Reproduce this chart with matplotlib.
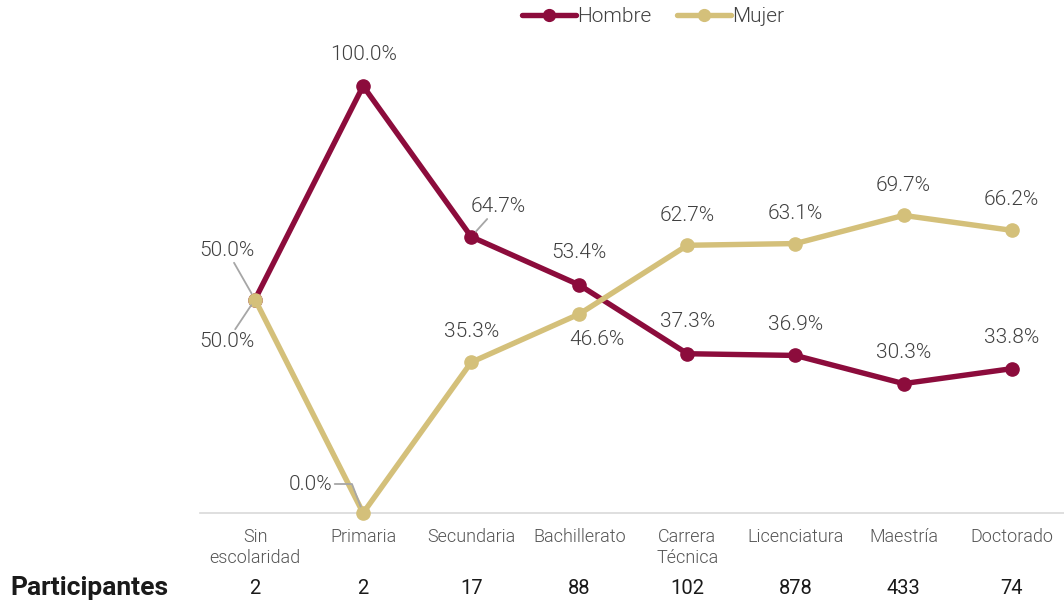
import matplotlib

matplotlib.use("Agg")
import matplotlib.pyplot as plt
from matplotlib.lines import Line2D

plt.rcParams["font.family"] = ["Roboto", "DejaVu Sans"]

# Nivel de estudios vs. porcentaje por sexo
categories = ["Sin\nescolaridad", "Primaria", "Secundaria", "Bachillerato",
              "Carrera\nTécnica", "Licenciatura", "Maestría", "Doctorado"]
hombre = [50.0, 100.0, 64.7, 53.4, 37.3, 36.9, 30.3, 33.8]
mujer = [50.0, 0.0, 35.3, 46.6, 62.7, 63.1, 69.7, 66.2]
participantes = [2, 2, 17, 88, 102, 878, 433, 74]

C_HOMBRE = "#8C0C3C"
C_MUJER = "#D4C07A"
C_TEXT = "#404040"
C_LEADER = "#A6A6A6"
LIGHT = 300

# label offsets in pixels (dx, dy) and whether a leader line is drawn
off_h = [(-28, 49), (0, 31), (27, 30), (0, 32), (0, 32), (0, 31), (0, 31), (0, 31)]
off_m = [(-28, -42), (-53, 29), (0, 31), (18, -25), (0, 30), (0, 30), (0, 30), (0, 31)]
lead_h = {0, 2}
lead_m = {0, 1}

W, H = 1064, 604
fig = plt.figure(figsize=(W / 100, H / 100), dpi=100)
ax = fig.add_axes([200 / W, (H - 513) / H, 864 / W, 427 / H])

x = list(range(len(categories)))
ax.plot(x, hombre, color=C_HOMBRE, lw=3.9, marker="o", ms=9.5,
        solid_capstyle="round", clip_on=False, zorder=3)
ax.plot(x, mujer, color=C_MUJER, lw=3.9, marker="o", ms=9.5,
        solid_capstyle="round", clip_on=False, zorder=4)

ax.set_xlim(-0.509, 7.484)
ax.set_ylim(0, 100)


def label(i, v, off, leader, bent=False):
    kw = dict(textcoords="offset pixels", ha="center", va="center",
              fontsize=15, fontweight=LIGHT, color=C_TEXT,
              annotation_clip=False, zorder=5)
    if leader:
        cs = "angle,angleA=0,angleB=111,rad=0" if bent else "arc3"
        kw["arrowprops"] = dict(arrowstyle="-", color=C_LEADER, lw=1.3,
                                shrinkA=0, shrinkB=5, connectionstyle=cs)
    ax.annotate(f"{v:.1f}%", xy=(i, v), xytext=off, **kw)


for i in x:
    label(i, hombre[i], off_h[i], i in lead_h)
    label(i, mujer[i], off_m[i], i in lead_m, bent=(i == 1))

# axes styling
for s in ["top", "right", "left"]:
    ax.spines[s].set_visible(False)
ax.spines["bottom"].set_color("#D9D9D9")
ax.spines["bottom"].set_linewidth(1.2)
ax.set_yticks([])
ax.set_xticks(x)
ax.set_xticklabels(categories, fontsize=13, fontweight=LIGHT, color="#555555",
                   linespacing=1.2)
ax.tick_params(axis="x", length=0, pad=11)

# participantes row
tr = ax.get_xaxis_transform()
for i, n in zip(x, participantes):
    ax.text(i, -75 / 427, str(n), transform=tr, ha="center", va="center",
            fontsize=14.5, color="#1a1a1a")
fig.text(10 / W, (H - 588) / H, "Participantes", ha="left", va="center",
         fontsize=19, fontweight="bold", color="#1a1a1a")

handles = [
    Line2D([], [], color=C_HOMBRE, lw=3.9, marker="o", ms=8.5, solid_capstyle="round"),
    Line2D([], [], color=C_MUJER, lw=3.9, marker="o", ms=8.5, solid_capstyle="round"),
]
fig.legend(handles, ["Hombre", "Mujer"], loc="center", ncol=2,
           bbox_to_anchor=(653 / W, (H - 17) / H), frameon=False,
           prop={"size": 15, "weight": LIGHT}, labelcolor=C_TEXT,
           handlelength=2.6, handletextpad=0.05, columnspacing=1.2)

fig.savefig("out.png", dpi=100)
